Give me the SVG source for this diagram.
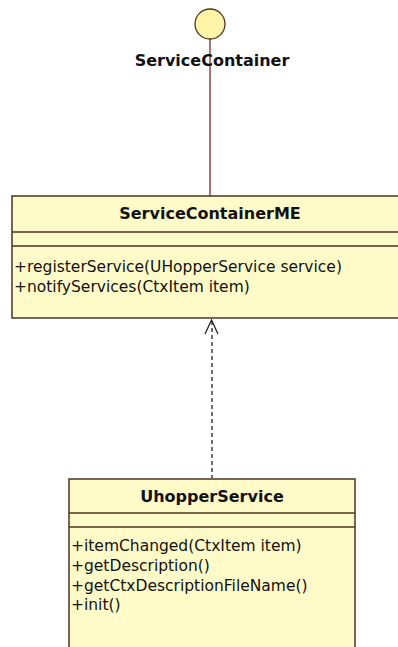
<svg xmlns="http://www.w3.org/2000/svg" width="398" height="647" viewBox="0 0 398 647">
<style>
.box{fill:#FFFBC8;stroke:#4a3520;stroke-width:1.5}
.sep{stroke:#4a3520;stroke-width:1.5}
.title{font-family:"DejaVu Sans",Verdana,sans-serif;font-weight:bold;font-size:16px;fill:#111;text-anchor:middle}
.op{font-family:"DejaVu Sans",Verdana,sans-serif;font-size:15.5px;fill:#111}
</style>
<rect width="398" height="647" fill="#ffffff"/>
<g id="connectors">
<line x1="210" y1="39" x2="210" y2="196" stroke="#7a2a2a" stroke-width="1.3"/>
<line x1="212" y1="321" x2="212" y2="478" stroke="#222" stroke-width="1.3" stroke-dasharray="4,3"/>
<polyline points="205,334 211.5,320 218,334" fill="none" stroke="#222" stroke-width="1.3"/>
</g>
<g id="ServiceContainer">
<circle cx="210" cy="24" r="15" fill="#FFF3A6" stroke="#4a3520" stroke-width="1.3"/>
<text class="title" x="212" y="66">ServiceContainer</text>
</g>
<g id="ServiceContainerME">
<rect class="box" x="12" y="196" width="392" height="122"/>
<line class="sep" x1="12" y1="232" x2="404" y2="232"/>
<line class="sep" x1="12" y1="246" x2="404" y2="246"/>
<text class="title" x="210" y="219">ServiceContainerME</text>
<text class="op" x="14" y="272">+registerService(UHopperService service)</text>
<text class="op" x="14" y="292">+notifyServices(CtxItem item)</text>
</g>
<g id="UhopperService">
<rect class="box" x="69" y="479" width="286" height="180"/>
<line class="sep" x1="69" y1="513" x2="355" y2="513"/>
<line class="sep" x1="69" y1="527" x2="355" y2="527"/>
<text class="title" x="212" y="502">UhopperService</text>
<text class="op" x="71" y="551">+itemChanged(CtxItem item)</text>
<text class="op" x="71" y="571">+getDescription()</text>
<text class="op" x="71" y="591">+getCtxDescriptionFileName()</text>
<text class="op" x="71" y="610">+init()</text>
</g>
</svg>
